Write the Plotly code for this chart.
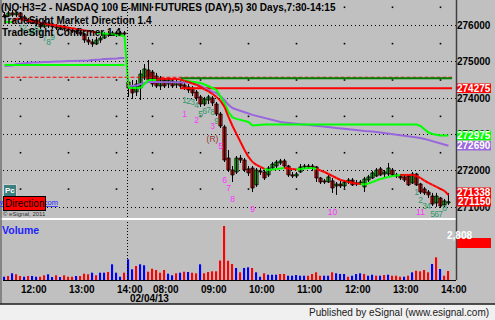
import plotly.graph_objects as go

# ---------------- data ----------------
def session_times(h, m, n):
    t0 = h * 60 + m
    return [f"{(t0 + 5 * k) // 60:02d}:{(t0 + 5 * k) % 60:02d}" for k in range(n)]

bar_times = session_times(11, 40, 31) + session_times(7, 30, 81)   # 5-min bars, two sessions
day2_first = 31
date_label = "02/04/13"

open_ = [276290,276260,276345,276290,276345,276235,276150,276095,276150,276040,275960,276070,275985,275960,275930,275985,275905,275875,275850,275820,275765,275600,275545,275490,275600,275655,275765,275740,275795,275740,275795,
 274445,274335,274170,274280,274555,274775,274720,274610,274335,274500,
 274390,274475,274365,274445,274365,274310,274280,274170,274035,273840,
 273950,274005,273840,273565,273210,272355,272025,271970,272355,272300,
 272055,272080,271615,272000,271970,271890,272080,272135,272220,272275,
 272135,271890,271860,271970,272110,272135,272135,272110,271805,271725,
 271695,271725,271585,271640,271585,271695,271750,271640,271670,271560,
 271750,271805,271860,272055,271915,271915,272025,271890,271860,271835,
 271860,271670,271915,271640,271505,271420,271310,271120,271255,271065,
 271120]
high_ = [276370,276400,276425,276370,276370,276290,276205,276180,276180,276095,276150,276125,276070,276040,276015,276015,275960,275930,275905,275875,275795,275685,275630,275685,275710,275820,275850,275850,275850,275850,275850,
 274530,274500,274500,274775,274940,275050,274775,274695,274610,274555,
 274555,274530,274530,274500,274445,274390,274335,274225,274090,274035,
 274090,274060,273895,273620,273265,272575,272135,272410,272440,272355,
 272135,272135,272080,272080,272025,272135,272245,272300,272330,272330,
 272165,271970,271970,272190,272190,272190,272190,272135,271835,271780,
 271890,271805,271695,271725,271750,271805,271805,271750,271750,271835,
 271890,272000,272080,272110,272025,272220,272080,271945,271915,271890,
 271890,271970,271945,271670,271560,271475,271395,271395,271285,271230,
 271395]
low_ = [276205,276235,276235,276235,276180,276095,276040,276070,275985,275905,275930,275930,275905,275875,275875,275850,275820,275795,275765,275710,275520,275465,275410,275465,275520,275630,275685,275710,275685,275710,275710,
 274035,273980,274060,273950,274500,274445,274310,274280,274225,274280,
 274280,274280,274280,274255,274225,274145,274060,273925,273760,273785,
 273840,273785,273510,273180,272245,271970,271695,271915,272220,271970,
 271860,271420,271560,271890,271750,271835,272055,272080,272165,272080,
 271835,271805,271805,271945,272055,272055,272000,271695,271640,271640,
 271670,271395,271340,271530,271530,271640,271585,271585,271615,271420,
 271695,271780,271835,271860,271835,271860,271860,271805,271750,271695,
 271585,271640,271585,271365,271340,271255,271035,271010,270980,271010,
 271065]
close_ = [276260,276345,276290,276345,276235,276150,276095,276150,276040,275960,276070,275985,275960,275930,275985,275905,275875,275850,275820,275765,275600,275545,275490,275600,275655,275765,275740,275795,275740,275795,275765,
 274280,274145,274390,274665,274805,274500,274390,274335,274555,274335,
 274500,274335,274445,274335,274280,274225,274145,274005,273840,273980,
 274035,273870,273565,273235,272300,272025,271890,272355,272300,272025,
 271945,271530,272025,271970,271805,272080,272190,272245,272275,272135,
 271890,271860,271915,272110,272135,272110,272080,271805,271695,271695,
 271835,271530,271640,271585,271695,271750,271615,271670,271695,271780,
 271835,271945,272025,271890,271970,272080,271890,271860,271805,271750,
 271615,271915,271615,271420,271395,271340,271090,271310,271035,271175,
 271150]

volume = [1030,1250,2090,1780,1250,1030,1250,1250,1030,1030,1470,1780,940,1470,940,1470,1030,1030,1250,1250,1970,1780,2280,1470,2280,2280,2500,4900,2280,1030,2280,
 6460,3340,4370,4900,4590,2590,3530,3120,2280,3120,
 1970,1470,2090,2280,2590,2500,2280,2090,4900,2090,
 2500,2710,2710,6080,16850,6020,4990,3740,2400,3740,
 3960,3740,2400,1030,2090,1650,1650,1650,1870,1870,
 1340,1340,1560,1340,1340,1340,1870,2400,1340,1340,
 1340,2400,2090,1870,1870,1030,1340,1870,2090,1870,
 1340,1650,1340,1340,1560,1650,1340,1340,1030,1030,
 1340,2400,2900,2710,3120,2400,4990,7080,3430,1340,
 2808]
volume_up = [1,0,1,0,0,1,0,1,1,0,0,1,1,0,1,0,0,0,1,0,0,0,1,0,1,1,0,1,1,1,0,
 1,1,0,1,1,0,0,0,0,0,
 1,1,0,1,0,1,0,0,1,0,
 0,0,0,0,0,0,0,1,0,1,
 1,0,1,1,0,1,1,1,0,0,
 1,1,1,1,1,0,0,0,0,1,
 1,0,1,1,1,0,1,1,1,0,
 1,1,0,1,0,1,0,0,0,1,
 0,1,0,0,0,0,1,0,1,0,
 0]

trend = [276095,276095,276095,276190,276170,276150,276135,276115,276095,276075,276055,276035,276020,276000,275980,275960,275940,275920,275905,275885,275865,275845,275825,275805,275795,275780,275765,275750,275740,275725,275710,
 274280,274280,274280,274280,274390,274500,274500,274500,274530,274530,
 274530,274530,274530,274515,274475,274445,274405,274365,274310,274240,
 274185,274115,274035,273925,273760,273485,273235,273015,272795,272575,
 272385,272245,272165,272110,272055,272025,272040,272055,272065,272080,
 272065,272055,272040,272055,272065,272080,272080,272055,272010,271970,
 271915,271860,271805,271750,271725,271695,271670,271655,271640,271625,
 271655,271695,271735,271780,271805,271835,271860,271875,271890,271890,
 271890,271890,271860,271805,271735,271670,271615,271560,271505,271450,
 271338]
trend_up = [1,1,1,0,0,0,0,0,0,0,0,0,0,0,0,0,0,0,0,0,0,0,0,0,1,1,1,1,1,1,1,
 1,1,1,1,1,1,1,1,0,0,
 0,0,0,0,0,0,0,0,0,0,
 0,0,0,0,0,0,0,0,0,0,
 0,0,0,0,0,1,1,1,1,1,
 0,0,0,1,1,1,1,1,0,0,
 0,0,0,0,0,0,0,0,0,1,
 1,1,1,1,1,1,1,1,1,0,
 0,0,0,0,0,0,0,0,0,0,
 0]

vwap = [274885,274885,274900,274940,274955,274970,274970,274980,274980,274995,274995,274995,275010,275010,275010,275025,275025,275025,275025,275035,275035,275035,275050,275050,275065,275080,275080,275090,275090,275105,275105,
 274335,274335,274350,274390,274420,274445,274445,274445,274445,274445,
 274445,274445,274445,274445,274445,274430,274420,274390,274335,274280,
 274225,274170,274145,274060,273950,273815,273730,273690,273660,273620,
 273580,273540,273510,273485,273455,273430,273400,273375,273345,273330,
 273320,273305,273290,273275,273275,273265,273250,273235,273235,273220,
 273210,273195,273180,273165,273165,273155,273140,273125,273110,273100,
 273100,273085,273070,273055,273045,273030,273015,273000,272990,272975,
 272960,272945,272935,272905,272880,272850,272825,272795,272770,272740,
 272690]

signal = [274915,274915,274915,274915,274915,274915,274915,274915,274915,274915,274915,274915,274915,274915,274915,274915,274915,274915,274915,274915,274915,274915,274915,274915,274915,274915,274915,274915,274915,274915,274915,
 None,None,None,None,None,None,None,None,None,None,
 None,None,None,274500,274485,274475,274460,274445,274420,274375,
 274335,274280,274225,274060,273870,273620,273470,273430,273400,273375,
 273345,273250,273265,273275,273275,273275,273275,273275,273275,273275,
 273275,273275,273275,273275,273275,273275,273275,273275,273275,273275,
 273275,273275,273275,273275,273275,273275,273275,273275,273275,273275,
 273275,273275,273275,273275,273275,273275,273275,273275,273275,273275,
 273275,273275,273275,273235,273155,273055,273015,272990,272975,272975,
 272975]

prior_level = 274575
or_high = 274550
or_low = 274275
or_start = 44

setup1_idx = [4, 5, 6, 7, 8, 9, 10, 11, 12]
setup1_y = [275905, 275905, 275795, 275795, 275875, 275795, 275630, 275520, 275655]
setup2_idx = [45, 46, 47, 48, 49, 50, 51, 52, 53]
setup2_y = [273925, 273895, 273870, 273785, 273540, 273620, 273650, 273595, 273345]
setup3_idx = [103, 104, 105, 106, 107, 108, 109, 110]
setup3_y = [271395, 271175, 271010, 271010, 270790, 270790, 270790, 270955]
count_idx = [45, 48, 52, 54, 55, 56, 57, 62, 82, 104]
count_lbl = ["1", "2", "3", "5", "6", "7", "8", "9", "10", "11"]
count_y = [273540, 273375, 273210, 272660, 271725, 271505, 271200, 270925, 270845, 270845]
recycle_idx = [52]
recycle_y = [272850]

price_ticks = [271000, 272000, 273000, 274000, 275000, 276000]

# ---------------- layout geometry ----------------
W, H = 495, 320
ML, MR, MT, MB = 3, 39, 2, 40
PW, PH = W - ML - MR, H - MT - MB
PRICE_TOP, PRICE_BOT = 2, 218
VOL_TOP, VOL_BOT = 220, 280
price_range = [270705, 276645]
vol_range = [0, 18720]
FONT = "Liberation Sans, Arial, sans-serif"

def pxx(X):
    return (X - ML) / PW

def pxy(Y):
    return (H - MB - Y) / PH

def price_py(v):
    return PRICE_TOP + (price_range[1] - v) / (price_range[1] - price_range[0]) * (PRICE_BOT - PRICE_TOP)

N = len(close_)
xs = list(range(N))
GREEN, RED, LIME, PURPLE = "#00d000", "#ff0000", "#00ff00", "#9966dd"

fig = go.Figure()

# vertical grid dots at hour bars / half levels
hour_idx = [i for i, t in enumerate(bar_times) if t.endswith(":00")]
half_levels = [p + 500 for p in price_ticks]
gx, gy = [], []
for i in hour_idx:
    for lv in half_levels:
        if price_range[0] < lv < price_range[1]:
            gx.append(i); gy.append(lv)
fig.add_trace(go.Scatter(x=gx, y=gy, mode="markers", marker=dict(symbol="square", size=1.6, color="#000"),
                         hoverinfo="skip", showlegend=False))

# horizontal levels
fig.add_trace(go.Scatter(x=[0, N - 1 + 0.9], y=[prior_level, prior_level], mode="lines",
                         line=dict(color=RED, width=1.2, dash="4px,2px"), hoverinfo="skip", showlegend=False))

# candles: wicks + bodies
wx, wy = [], []
for i in xs:
    wx += [i, i, None]; wy += [low_[i], high_[i], None]
fig.add_trace(go.Scatter(x=wx, y=wy, mode="lines", line=dict(color="#000", width=1), hoverinfo="skip", showlegend=False))
for up, col in ((1, GREEN), (0, RED)):
    idx = [i for i in xs if (close_[i] >= open_[i]) == bool(up)]
    fig.add_trace(go.Bar(x=idx, base=[min(open_[i], close_[i]) for i in idx],
                         y=[max(abs(close_[i] - open_[i]), 10) for i in idx], width=0.8,
                         marker=dict(color=col, line=dict(color="#000", width=0.8)),
                         hoverinfo="skip", showlegend=False))

fig.add_trace(go.Scatter(x=[or_start, N - 1 + 0.9], y=[or_high, or_high], mode="lines",
                         line=dict(color="#008000", width=2), hoverinfo="skip", showlegend=False))
fig.add_trace(go.Scatter(x=[or_start, N - 1 + 0.9], y=[or_low, or_low], mode="lines",
                         line=dict(color=RED, width=2), hoverinfo="skip", showlegend=False))

# vwap (breaks between sessions)
vx, vy = [], []
for i in xs:
    if i == day2_first:
        vx.append(None); vy.append(None)
    vx.append(i); vy.append(vwap[i])
fig.add_trace(go.Scatter(x=vx, y=vy, mode="lines", line=dict(color=PURPLE, width=2),
                         hoverinfo="skip", showlegend=False))
fig.add_trace(go.Scatter(x=xs, y=signal, mode="lines", line=dict(color=LIME, width=2),
                         connectgaps=False, hoverinfo="skip", showlegend=False))

# trend line coloured by direction
for up, col in ((1, LIME), (0, RED)):
    tx, ty = [], []
    for i in range(N - 1):
        if trend_up[i + 1] == up:
            tx += [i, i + 1, None]; ty += [trend[i], trend[i + 1], None]
    fig.add_trace(go.Scatter(x=tx, y=ty, mode="lines", line=dict(color=col, width=2),
                             hoverinfo="skip", showlegend=False))

# count labels
def txt(ix, iy, labels, color):
    fig.add_trace(go.Scatter(x=ix, y=iy, mode="text", text=labels, cliponaxis=False,
                             textfont=dict(family=FONT, size=8.5, color=color),
                             hoverinfo="skip", showlegend=False))
TEAL = "#2e9a6a"
MAG = "#ff33ff"
txt(setup1_idx, setup1_y, [str(k + 1) for k in range(len(setup1_idx))], TEAL)
txt(setup2_idx, setup2_y, [str(k + 1) for k in range(len(setup2_idx))], TEAL)
txt(setup3_idx, setup3_y, [str(k + 1) for k in range(len(setup3_idx))], TEAL)
txt(count_idx, count_y, count_lbl, MAG)
txt(recycle_idx, recycle_y, ["(R)"], "#993333")

# volume
fig.add_trace(go.Bar(x=xs, y=volume, yaxis="y2", width=0.3,
                     marker=dict(color=["#0000ff" if u else "#ff0000" for u in volume_up], line=dict(width=0)),
                     hoverinfo="skip", showlegend=False))

shapes = []
annos = []

# day separator
shapes.append(dict(type="line", xref="x", yref="paper", x0=day2_first - 0.25, x1=day2_first - 0.25,
                   y0=0, y1=1, line=dict(color="#000", width=1, dash="1px,2px"), layer="above"))
# panel separator, borders, footer
shapes.append(dict(type="line", xref="paper", yref="paper", x0=pxx(0), x1=pxx(456), y0=pxy(219), y1=pxy(219),
                   line=dict(color="#ffffff", width=2)))
shapes.append(dict(type="line", xref="paper", yref="paper", x0=pxx(456.5), x1=pxx(456.5), y0=pxy(0), y1=pxy(280),
                   line=dict(color="#404040", width=1.5)))
shapes.append(dict(type="line", xref="paper", yref="paper", x0=pxx(1), x1=pxx(1), y0=pxy(0), y1=pxy(304),
                   line=dict(color="#707070", width=1.5)))
shapes.append(dict(type="rect", xref="paper", yref="paper", x0=pxx(0), x1=pxx(495), y0=pxy(304.5), y1=pxy(320),
                   fillcolor="#f0f0f0", line=dict(width=0)))
shapes.append(dict(type="line", xref="paper", yref="paper", x0=pxx(0), x1=pxx(495), y0=pxy(304), y1=pxy(304),
                   line=dict(color="#202020", width=1.5)))

# right-hand value labels (stacked to avoid overlap)
labels = [(or_low, RED), (signal[-1], LIME), (vwap[-1], PURPLE), (trend[-1], RED), (close_[-1], RED)]
BOX = 9.5
placed = []
prev = None
for v, col in sorted(labels, key=lambda t: t[0]):
    py = price_py(v)
    if prev is not None:
        py = min(py, prev - BOX)
    prev = py
    placed.append((v, col, py))
for v, col, py in placed:
    shapes.append(dict(type="rect", xref="paper", yref="paper", x0=pxx(457), x1=pxx(491),
                       y0=pxy(py + BOX / 2), y1=pxy(py - BOX / 2), fillcolor=col, line=dict(width=0), layer="above"))
    annos.append(dict(xref="paper", yref="paper", x=pxx(474), y=pxy(py), text=f"{v:d}", showarrow=False,
                      font=dict(family=FONT, size=10, color="#ffffff", weight="bold"), xanchor="center", yanchor="middle"))
# volume last value
shapes.append(dict(type="rect", xref="paper", yref="paper", x0=pxx(457), x1=pxx(491), y0=pxy(248), y1=pxy(238),
                   fillcolor=RED, line=dict(width=0), layer="above"))
annos.append(dict(xref="paper", yref="paper", x=pxx(474), y=pxy(243), text=f"{volume[-1]:,}", showarrow=False,
                  font=dict(family=FONT, size=10, color="#ffffff", weight="bold")))

# titles / text
def note(X, Y, text, size, color="#000", weight="normal", anchor="left", bg=None, border=None, pad=0):
    annos.append(dict(xref="paper", yref="paper", x=pxx(X), y=pxy(Y), text=text, showarrow=False,
                      xanchor=anchor, yanchor="middle", bgcolor=bg, bordercolor=border,
                      borderwidth=1 if border else 0, borderpad=pad,
                      font=dict(family=FONT, size=size, color=color, weight=weight)))

note(1, 7.5, "(NQ H3=2 - NASDAQ 100 E-MINI FUTURES (DAY),5) 30 Days,7:30-14:15", 10, weight="bold")
note(2, 20.5, "TradeSight Market Direction 1.4", 10, weight="bold")
note(2, 33, "TradeSight Confirmer 1.4", 10, weight="bold")
note(2, 230, "Volume", 10.5, color="#2020ff", weight="bold")
note(58, 203, "<u>www.esignal.com</u>", 7.5, color="#2020ff", anchor="right")
note(3, 190.5, "Pc", 8, color="#ffffff", weight="bold", bg="#3d7f7f", border="#d0d0d0", pad=1)
note(3, 203.5, "Direction", 10, color="#000", bg=RED, border="#000", pad=1)
note(3, 214, "© eSignal, 2011", 6, color="#303030")
note(489, 312, "Published by eSignal (www.esignal.com)", 10, color="#202020", anchor="right")
annos.append(dict(xref="x", yref="paper", x=day2_first - 0.25, y=pxy(298), text=date_label, showarrow=False,
                  xanchor="left", yanchor="middle", font=dict(family=FONT, size=10, color="#000", weight="bold")))

fig.update_layout(
    width=W, height=H, margin=dict(l=ML, r=MR, t=MT, b=MB, pad=0),
    paper_bgcolor="#c0c0c0", plot_bgcolor="#c0c0c0",
    barmode="overlay", showlegend=False, hovermode=False,
    font=dict(family=FONT, size=10, color="#000"),
    xaxis=dict(range=[-0.375, 112.875], anchor="y2", showgrid=False, zeroline=False,
               showline=True, linecolor="#000", linewidth=1, ticks="",
               tickvals=hour_idx, ticktext=[bar_times[i] for i in hour_idx],
               ticklabelposition="outside right",
               tickfont=dict(family=FONT, size=10, color="#000", weight="bold")),
    yaxis=dict(domain=[pxy(PRICE_BOT), pxy(PRICE_TOP)], range=price_range, side="right",
               tickvals=price_ticks, ticktext=[str(t) for t in price_ticks], ticks="",
               showgrid=True, gridcolor="#000", gridwidth=1, griddash="1px,3px",
               zeroline=False, showline=False,
               tickfont=dict(family=FONT, size=10, color="#000", weight="bold")),
    yaxis2=dict(domain=[pxy(VOL_BOT), pxy(VOL_TOP)], range=vol_range, showgrid=False,
                zeroline=False, showticklabels=False, showline=False),
    shapes=shapes, annotations=annos,
)

fig.write_html("out.html")
